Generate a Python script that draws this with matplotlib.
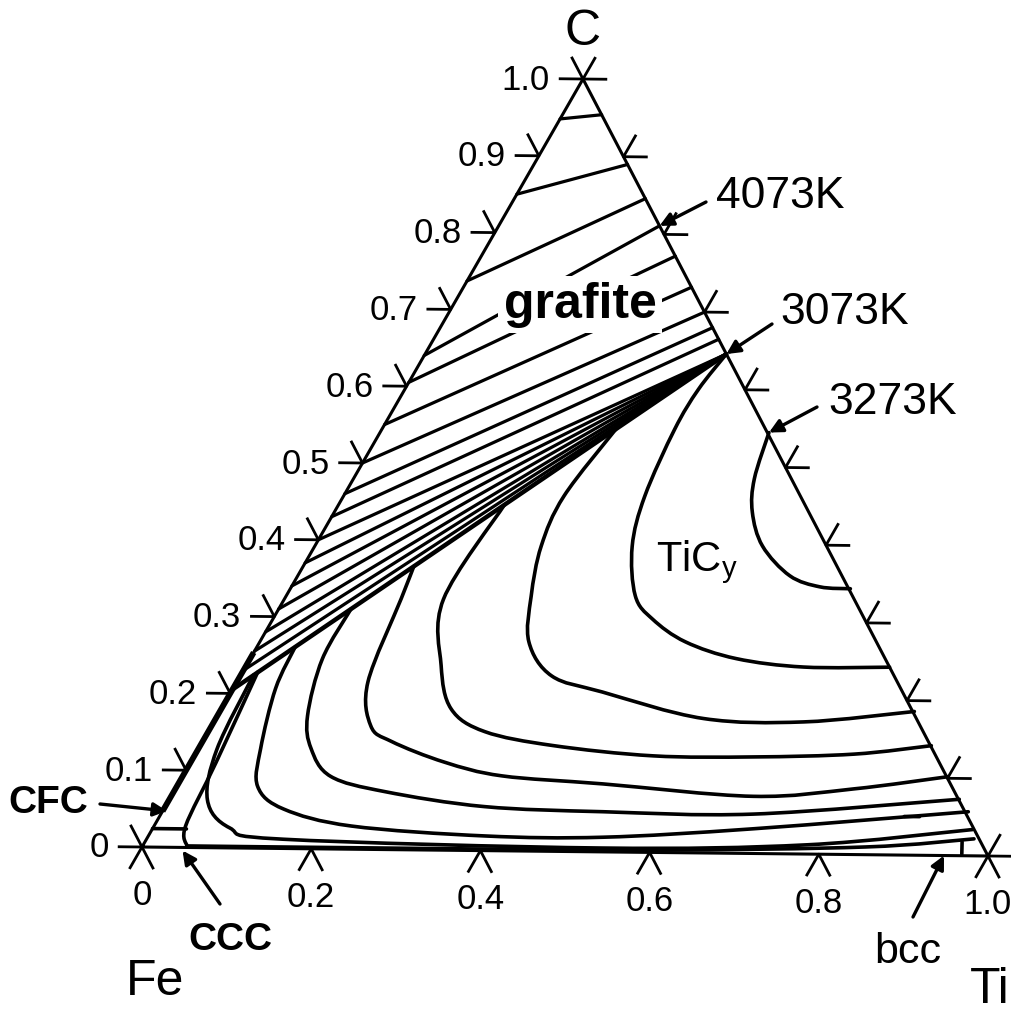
import numpy as np
import matplotlib
matplotlib.use('Agg')
import matplotlib.pyplot as plt
from matplotlib.path import Path
from matplotlib.patches import PathPatch

plt.rcParams['font.family'] = ['Liberation Sans', 'DejaVu Sans']
plt.rcParams['mathtext.default'] = 'regular'

# corners of the (slightly skewed) scanned triangle, in figure pixels
FE = np.array([142.0, 848.0])
TI = np.array([988.0, 857.0])
CC = np.array([583.0, 80.0])


def tern(ti, c):
    ti = np.asarray(ti, float)
    c = np.asarray(c, float)
    x = FE[0] + ti * (TI[0] - FE[0]) + c * (CC[0] - FE[0])
    y = FE[1] + ti * (TI[1] - FE[1]) + c * (CC[1] - FE[1])
    return x, y


def smooth_curve(ax, pts, lw):
    # draws a smooth bezier path through the read points
    p = np.array(pts)
    x, y = tern(p[:, 0], p[:, 1])
    P = np.column_stack([x, y])
    n = len(P)
    verts = [P[0]]
    codes = [Path.MOVETO]
    for i in range(n - 1):
        p0 = P[i - 1] if i > 0 else P[i]
        p3 = P[i + 2] if i + 2 < n else P[i + 1]
        verts += [P[i] + (P[i + 1] - p0) / 6, P[i + 1] - (p3 - P[i]) / 6, P[i + 1]]
        codes += [Path.CURVE4] * 3
    ax.add_patch(PathPatch(Path(verts, codes), fc='none', ec='k', lw=lw,
                           capstyle='round', joinstyle='round'))


# graphite-side isotherms: C fraction on the Fe-C side and on the Ti-C side
graf_left = [0.948, 0.850, 0.737, 0.640, 0.605, 0.550, 0.500, 0.460, 0.430,
             0.400, 0.370, 0.340, 0.310, 0.280, 0.255, 0.230, 0.205]
graf_right = [0.954, 0.890, 0.846, 0.811, 0.772, 0.732, 0.700, 0.680, 0.665,
              0.646, 0.646, 0.646, 0.646, 0.646, 0.646, 0.646, 0.646]

# TiC isotherms, points as (x_Ti, x_C)
tic_1 = [(0.457, 0.545), (0.471, 0.485), (0.491, 0.442), (0.526, 0.398),
         (0.578, 0.360), (0.621, 0.346), (0.658, 0.344)]
tic_2 = [(0.354, 0.646), (0.345, 0.600), (0.344, 0.548), (0.354, 0.461),
         (0.373, 0.396), (0.410, 0.332), (0.446, 0.302), (0.500, 0.273),
         (0.571, 0.252), (0.656, 0.242), (0.757, 0.243)]
tic_3 = [(0.275, 0.548), (0.259, 0.460), (0.266, 0.395), (0.288, 0.330),
         (0.316, 0.271), (0.366, 0.227), (0.436, 0.207), (0.573, 0.174),
         (0.693, 0.171), (0.816, 0.186)]
tic_4 = [(0.195, 0.448), (0.187, 0.325), (0.229, 0.239), (0.270, 0.183),
         (0.325, 0.154), (0.414, 0.137), (0.539, 0.125), (0.658, 0.125),
         (0.774, 0.130), (0.859, 0.142)]
tic_5 = [(0.130, 0.367), (0.137, 0.325), (0.154, 0.217), (0.187, 0.160),
         (0.222, 0.140), (0.298, 0.114), (0.375, 0.097), (0.499, 0.088),
         (0.684, 0.074), (0.797, 0.085), (0.899, 0.102)]
tic_6 = [(0.085, 0.311), (0.085, 0.246), (0.106, 0.172), (0.132, 0.130),
         (0.174, 0.094), (0.248, 0.075), (0.375, 0.057), (0.518, 0.052),
         (0.696, 0.051), (0.928, 0.073)]
tic_7 = [(0.045, 0.261), (0.050, 0.207), (0.073, 0.129), (0.095, 0.080),
         (0.141, 0.051), (0.232, 0.030), (0.396, 0.019), (0.535, 0.019),
         (0.706, 0.032), (0.947, 0.057)]
tic_8 = [(0.015, 0.224), (0.022, 0.128), (0.045, 0.062), (0.090, 0.026),
         (0.161, 0.012), (0.540, 0.005), (0.780, 0.012), (0.964, 0.034)]
base_line = [(0.052, 0.002), (0.300, 0.002), (0.600, 0.003), (0.850, 0.010),
             (0.972, 0.022)]
tic_curves = [tic_1, tic_2, tic_3, tic_4, tic_5, tic_6, tic_7, tic_8, base_line]

# small phase boundaries near the corners
cfc_line = [(0.018, 0.228), (0.030, 0.110), (0.037, 0.028), (0.052, 0.002)]
cfc_step = [(0.0, 0.024), (0.040, 0.024)]
bcc_step = [(0.960, 0.018), (0.968, 0.002)]
blob = [(0.875, 0.050), (0.893, 0.050)]

left_ticks = np.round(np.arange(0, 1.01, 0.1), 1)
right_ticks = np.round(np.arange(0, 1.01, 0.1), 1)
bottom_ticks = [0.0, 0.2, 0.4, 0.6, 0.8, 1.0]
left_labels = ['0', '0.1', '0.2', '0.3', '0.4', '0.5', '0.6', '0.7', '0.8', '0.9', '1.0']
bottom_labels = ['0', '0.2', '0.4', '0.6', '0.8', '1.0']

fig = plt.figure(figsize=(10.11, 10.12), dpi=100)
ax = fig.add_axes([0, 0, 1, 1])
ax.set_xlim(0, 1011)
ax.set_ylim(1012, 0)
ax.axis('off')

# triangle
x, y = tern([0, 1, 0, 0], [0, 0, 1, 0])
ax.plot(x, y, color='k', lw=2.2, solid_joinstyle='miter')
# thicker Fe-C side at low carbon
x, y = tern([0, 0], [0.25, 0.05])
ax.plot(x, y, color='k', lw=4.2)

# tick marks (short extensions of the composition grid outside the triangle)
L = 0.027
for c in left_ticks:
    x, y = tern([-L, 0, -L], [c, c, c + L])
    ax.plot(x, y, color='k', lw=2.0)
for c in right_ticks:
    x, y = tern([1 - c + L, 1 - c, 1 - c], [c, c, c + L])
    ax.plot(x, y, color='k', lw=2.0)
for t in bottom_ticks:
    x, y = tern([t, t, t + L], [-L, 0, -L])
    ax.plot(x, y, color='k', lw=2.0)

for c, lab in zip(left_ticks, left_labels):
    x, y = tern(0, c)
    ax.text(x - 33, y, lab, ha='right', va='center', fontsize=25)
for t, lab in zip(bottom_ticks, bottom_labels):
    x, y = tern(t, 0)
    ax.text(x, y + 48, lab, ha='center', va='center', fontsize=25)

# graphite isotherms
for i, (cl, cr) in enumerate(zip(graf_left, graf_right)):
    x, y = tern([0, 1 - cr], [cl, cr])
    ax.plot(x, y, color='k', lw=3.2 if i == len(graf_left) - 1 else 2.3,
            solid_capstyle='round')

# TiC isotherms
for pts in tic_curves:
    smooth_curve(ax, pts, 2.6)
for pts in [cfc_line, cfc_step, bcc_step, blob]:
    smooth_curve(ax, pts, 2.6)

# labels
ax.text(580, 305, 'grafite', ha='center', va='center', fontsize=36,
        fontweight='bold', bbox=dict(fc='white', ec='none', pad=4))
ax.text(656, 562, 'TiC$_{y}$', ha='left', va='center', fontsize=30)

ax.text(583, 32, 'C', ha='center', va='center', fontsize=36)
ax.text(155, 982, 'Fe', ha='center', va='center', fontsize=36)
ax.text(990, 990, 'Ti', ha='center', va='center', fontsize=36)

arrow = dict(arrowstyle='-|>', color='k', lw=2.4, mutation_scale=20,
             shrinkA=0, shrinkB=0)

iso_labels = [('4073K', 1 - graf_right[3], graf_right[3], (706, 203), (716, 196)),
              ('3073K', 1 - graf_right[-1], graf_right[-1], (772, 325), (780, 312)),
              ('3273K', tic_1[0][0], tic_1[0][1], (817, 408), (828, 402))]
for lab, ti, c, tail, pos in iso_labels:
    ax.annotate('', xy=tern(ti, c), xytext=tail, arrowprops=arrow)
    ax.text(pos[0], pos[1], lab, ha='left', va='center', fontsize=32)

ax.annotate('', xy=tern(0.005, 0.047), xytext=(100, 805), arrowprops=arrow)
ax.text(8, 803, 'CFC', ha='left', va='center', fontsize=28, fontweight='bold')

ax.annotate('', xy=tern(0.05, -0.004), xytext=(220, 905), arrowprops=arrow)
ax.text(230, 940, 'CCC', ha='center', va='center', fontsize=28, fontweight='bold')

ax.annotate('', xy=tern(0.948, 0.0), xytext=(913, 918), arrowprops=arrow)
ax.text(908, 952, 'bcc', ha='center', va='center', fontsize=31)

fig.savefig('out.png', dpi=100, facecolor='white')
